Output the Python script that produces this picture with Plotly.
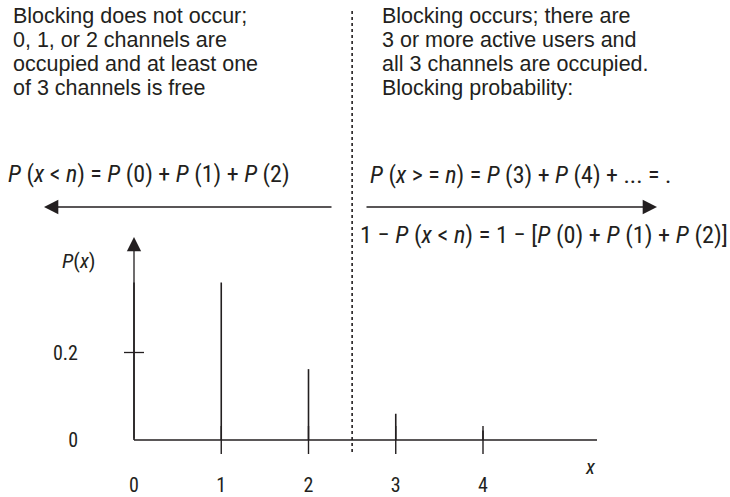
import plotly.graph_objects as go

# ---- data ----
x_values = [0, 1, 2, 3, 4]
p_values = [0.36, 0.36, 0.162, 0.06, 0.022]
x_tick_labels = ["0", "1", "2", "3", "4"]
y_tick_values = [0, 0.2]
y_tick_labels = ["0", "0.2"]
n_channels = 3

left_lines = ["Blocking does not occur;", "0, 1, or 2 channels are",
              "occupied and at least one", "of 3 channels is free"]
right_lines = ["Blocking occurs; there are", "3 or more active users and",
               "all 3 channels are occupied.", "Blocking probability:"]
f1 = "<i>P</i> (<i>x</i> &lt; <i>n</i>) = <i>P</i> (0) + <i>P</i> (1) + <i>P</i> (2)"
f2 = "<i>P</i> (<i>x</i> &gt; = <i>n</i>) = <i>P</i> (3) + <i>P</i> (4) + ... = ."
f3 = "1 − <i>P</i> (<i>x</i> &lt; <i>n</i>) = 1 − [<i>P</i> (0) + <i>P</i> (1) + <i>P</i> (2)]"

W, H = 730, 497
NARROW = "Liberation Sans Narrow, Arial Narrow, Roboto Condensed, Liberation Sans, sans-serif"
REGULAR = "Liberation Sans, Arial, sans-serif"
INK = "#231f20"

# axis geometry (pixel layout of the drawing)
X0_PX, X_UNIT_PX = 134, 87.25
Y0_PX, Y_UNIT_PX = 440, 437.5
x_range = [(0 - X0_PX) / X_UNIT_PX, (W - X0_PX) / X_UNIT_PX]
y_range = [(Y0_PX - H) / Y_UNIT_PX, (Y0_PX - 0) / Y_UNIT_PX]


def px(xp):
    return xp / W


def py(yp):
    return 1 - yp / H


# stems
sx, sy = [], []
for xv, pv in zip(x_values, p_values):
    sx += [xv, xv, None]
    sy += [0, pv, None]

fig = go.Figure()
fig.add_trace(go.Scatter(x=sx, y=sy, mode="lines",
                         line=dict(color=INK, width=1.6),
                         hoverinfo="skip", showlegend=False))
# small tick marks crossing the baseline at x = 1..4
fig.add_trace(go.Scatter(x=x_values[1:], y=[0] * (len(x_values) - 1), mode="markers",
                         marker=dict(symbol="line-ns", size=20,
                                     line=dict(color=INK, width=1.4)),
                         hoverinfo="skip", showlegend=False))

shapes = []
# baseline (x axis)
shapes.append(dict(type="line", xref="x", yref="y", x0=0, x1=5.307, y0=0, y1=0,
                   line=dict(color=INK, width=1.3)))
# crossing tick at 0.2
shapes.append(dict(type="line", xref="x", yref="y", x0=-0.115, x1=0.115,
                   y0=y_tick_values[1], y1=y_tick_values[1],
                   line=dict(color=INK, width=1.3)))
# dotted separator between n-1 and n
shapes.append(dict(type="line", xref="x", yref="paper", x0=n_channels - 0.5, x1=n_channels - 0.5,
                   y0=py(452), y1=py(8), line=dict(color=INK, width=1.6, dash="dot")))

annotations = []
# y axis with arrow
annotations.append(dict(x=0, y=(Y0_PX - 237) / Y_UNIT_PX, xref="x", yref="y",
                        ax=0, ay=0, axref="x", ayref="y", text="", showarrow=True,
                        arrowhead=2, arrowsize=2.2, arrowwidth=1.3, arrowcolor=INK, standoff=0))
# horizontal arrows
annotations.append(dict(x=px(44), y=py(207), xref="paper", yref="paper", ax=289, ay=0,
                        text="", showarrow=True, arrowhead=2, arrowsize=2.2, arrowwidth=1.3,
                        arrowcolor=INK, standoff=0))
annotations.append(dict(x=px(657), y=py(207), xref="paper", yref="paper", ax=-292, ay=0,
                        text="", showarrow=True, arrowhead=2, arrowsize=2.2, arrowwidth=1.3,
                        arrowcolor=INK, standoff=0))

BODY = 21.5
line_centers = [16, 40, 64, 88]
for txt, yc in zip(left_lines, line_centers):
    annotations.append(dict(x=px(12), y=py(yc), xref="paper", yref="paper", xanchor="left",
                            yanchor="middle", showarrow=False, text=txt, borderpad=0,
                            font=dict(family=REGULAR, size=BODY, color=INK)))
for txt, yc in zip(right_lines, line_centers):
    annotations.append(dict(x=px(381), y=py(yc), xref="paper", yref="paper", xanchor="left",
                            yanchor="middle", showarrow=False, text=txt, borderpad=0,
                            font=dict(family=REGULAR, size=BODY, color=INK)))

FORM = 24
annotations.append(dict(x=px(7), y=py(174), xref="paper", yref="paper", xanchor="left",
                        yanchor="middle", showarrow=False, text=f1, borderpad=0,
                        font=dict(family=NARROW, size=FORM, color=INK)))
annotations.append(dict(x=px(369), y=py(175), xref="paper", yref="paper", xanchor="left",
                        yanchor="middle", showarrow=False, text=f2, borderpad=0,
                        font=dict(family=NARROW, size=FORM, color=INK)))
annotations.append(dict(x=px(729), y=py(234), xref="paper", yref="paper", xanchor="right",
                        yanchor="middle", showarrow=False, text=f3, borderpad=0,
                        font=dict(family=NARROW, size=24.3, color=INK)))
# axis titles
annotations.append(dict(x=px(60), y=py(261), xref="paper", yref="paper", showarrow=False,
                        text="<i>P</i>(<i>x</i>)", font=dict(family=NARROW, size=21, color=INK)))
annotations.append(dict(x=px(598), y=py(481), xref="paper", yref="paper", showarrow=False,
                        text="<i>x</i>", font=dict(family=NARROW, size=21, color=INK)))

fig.update_layout(
    width=W, height=H, margin=dict(l=0, r=0, t=0, b=0, autoexpand=False),
    paper_bgcolor="white", plot_bgcolor="white",
    showlegend=False, shapes=shapes, annotations=annotations,
    font=dict(family=NARROW, size=20, color=INK),
    xaxis=dict(range=x_range, anchor="free", position=1 - Y0_PX / H,
               tickmode="array", tickvals=x_values, ticktext=x_tick_labels,
               ticks="", showline=False, showgrid=False, zeroline=False, automargin=False,
               ticklabelstandoff=31, tickfont=dict(family=NARROW, size=20, color=INK),
               fixedrange=True),
    yaxis=dict(range=y_range, anchor="free", position=X0_PX / W,
               tickmode="array", tickvals=y_tick_values, ticktext=y_tick_labels,
               ticks="", showline=False, showgrid=False, zeroline=False, automargin=False,
               ticklabelstandoff=56, tickfont=dict(family=NARROW, size=20, color=INK),
               fixedrange=True),
)

fig.write_html("out.html", config={"displayModeBar": False},
               post_script="document.body.style.margin='0';document.body.style.overflow='hidden';")
